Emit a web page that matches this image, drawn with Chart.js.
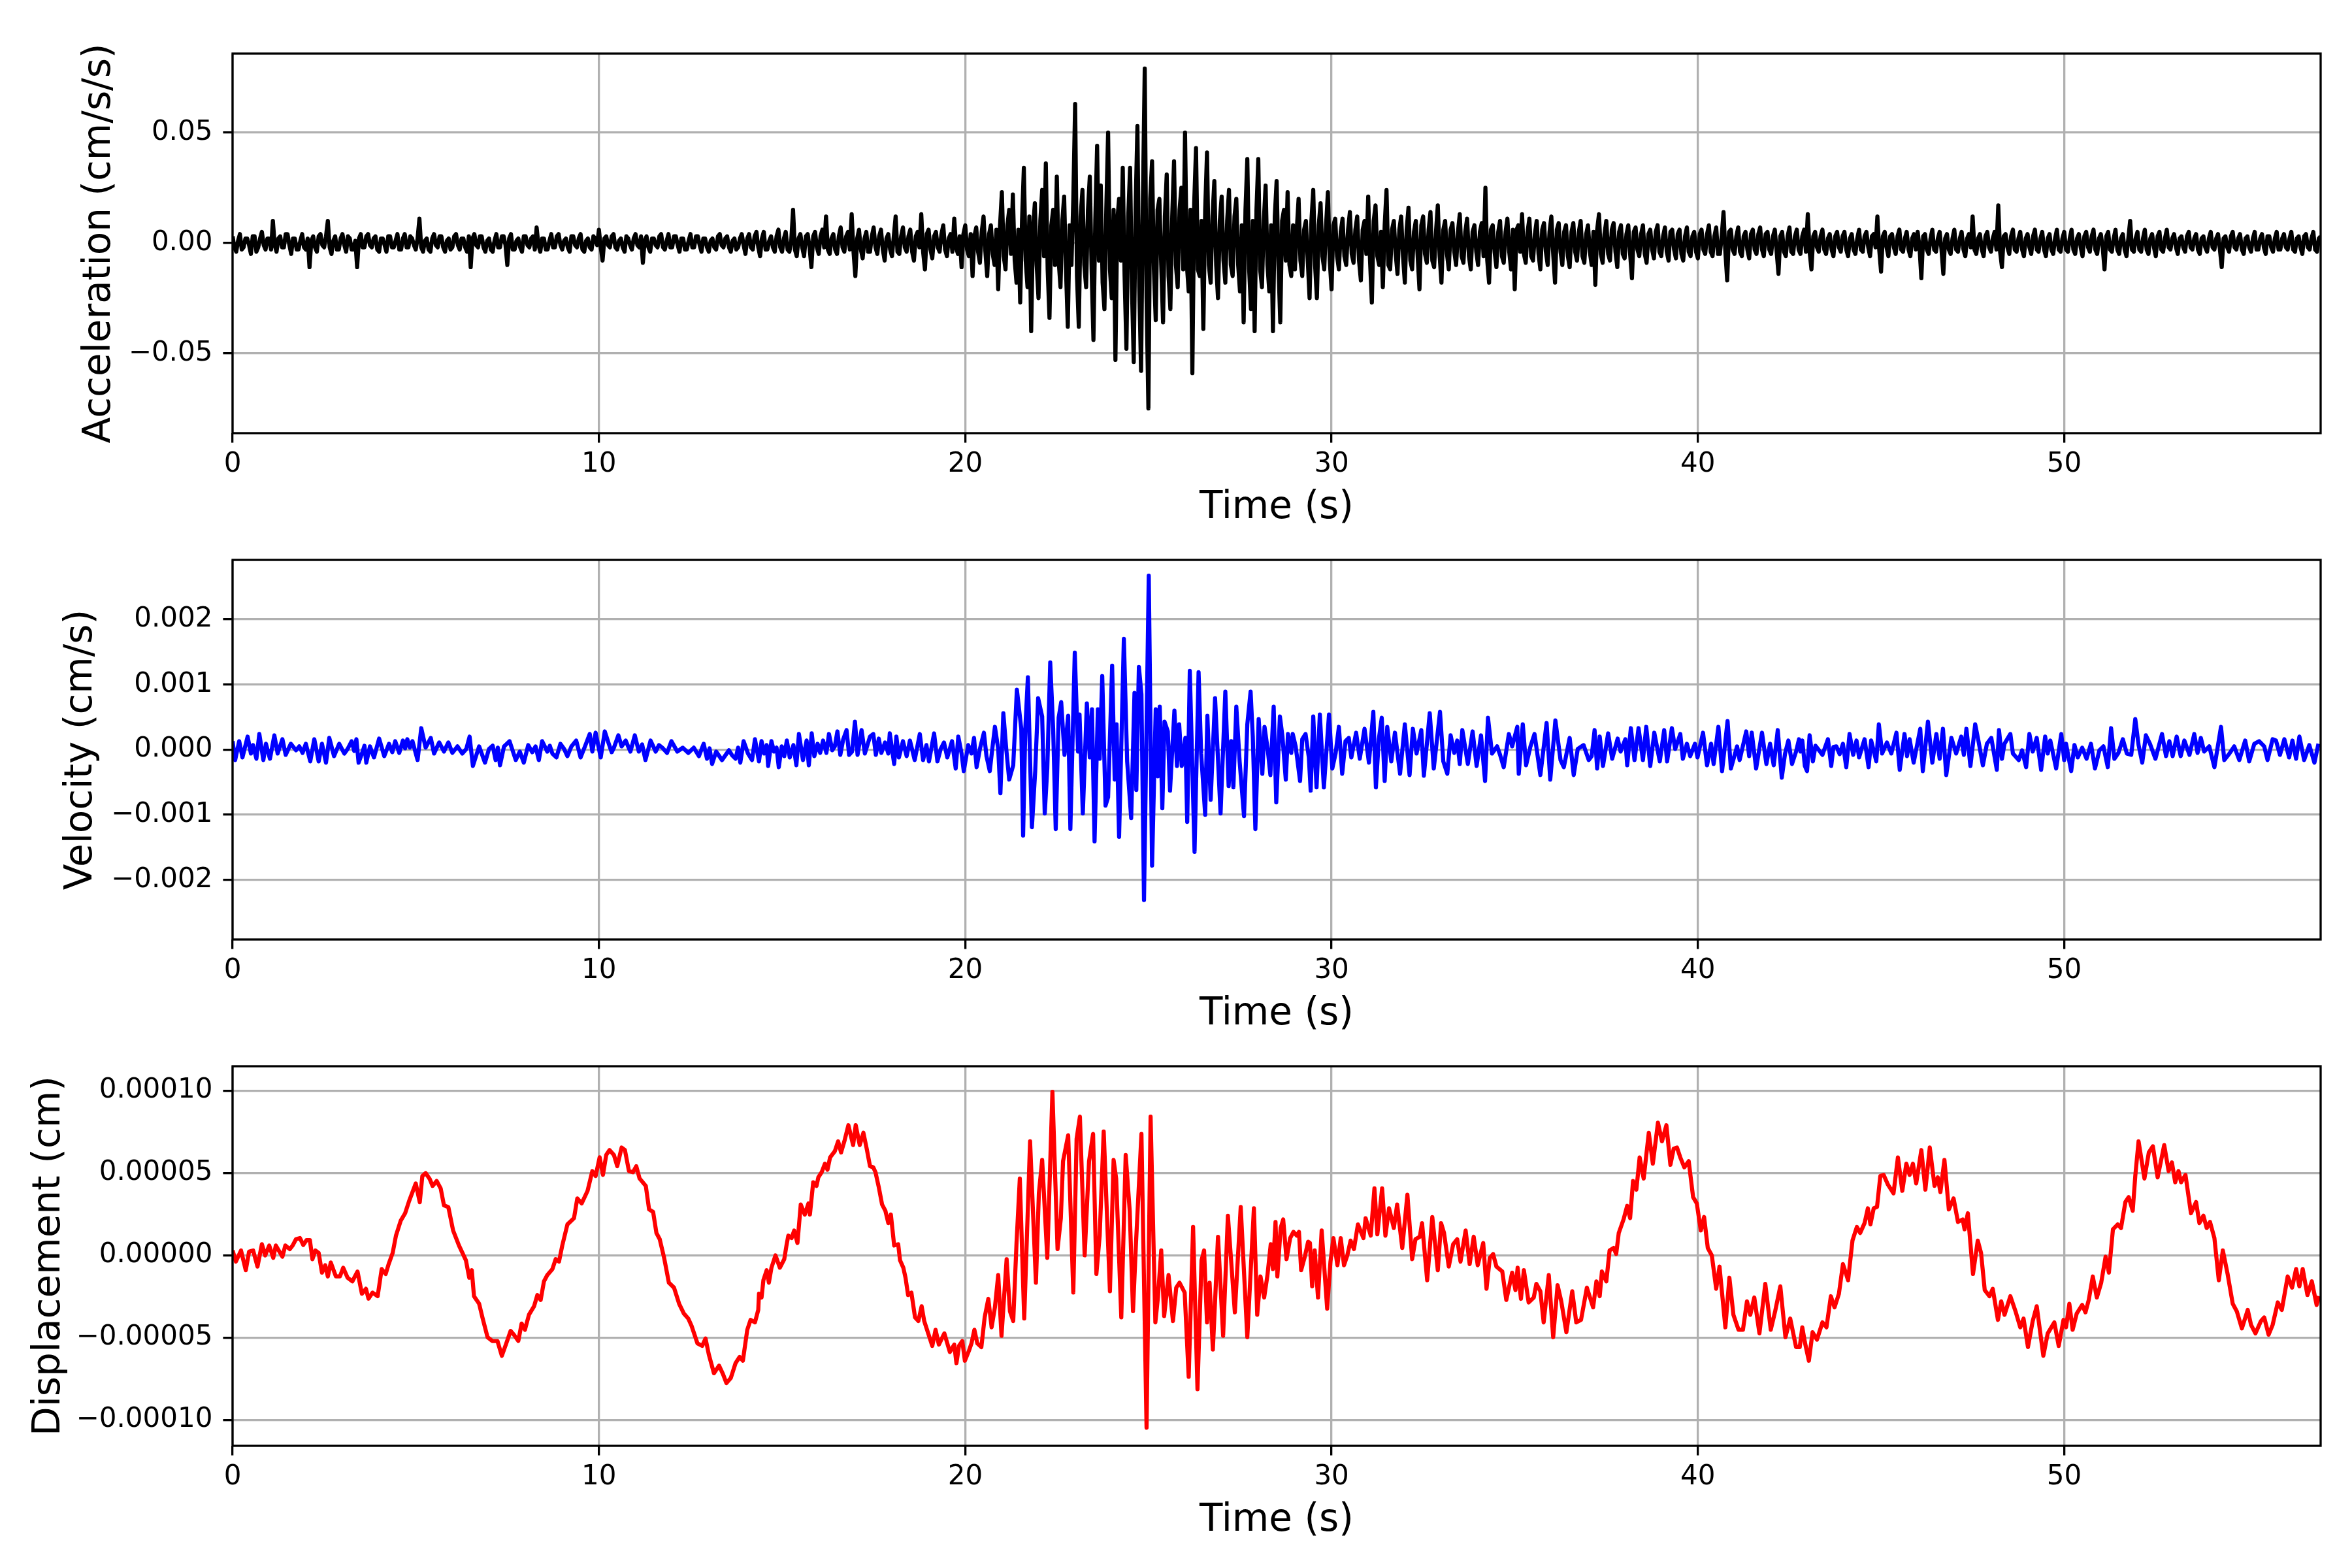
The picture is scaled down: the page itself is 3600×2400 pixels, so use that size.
<!DOCTYPE html>
<html><head><meta charset="utf-8">
<script src="https://cdn.jsdelivr.net/npm/chart.js@4.4.0/dist/chart.umd.min.js"></script>
<style>
html,body{margin:0;padding:0;background:#fff;width:3600px;height:2400px;overflow:hidden}
canvas{position:absolute;left:0;width:3600px;height:771px}
</style></head><body>
<canvas id="cAcc" width="3600" height="771" style="top:62px"></canvas>
<canvas id="cVel" width="3600" height="771" style="top:837px"></canvas>
<canvas id="cDis" width="3600" height="771" style="top:1612px"></canvas>
<script>
// ---------- DATA ----------
// Acceleration, sampled every 0.05 s, values in units of 1e-3 cm/s/s (one row = 1 s)
const accelStep = 0.05;
const accelMilli = [
 3,-2,-4,1,4,-3,-2,2,2,-1,-5,3,3,-4,-2,2,5,-1,-3,2,
 2,-3,10,-1,-4,2,3,-2,-2,4,4,-1,-5,2,2,-3,-3,1,4,-2,
 -3,2,-11,1,3,-2,-4,3,4,-1,-2,3,10,-2,-5,1,3,-3,-3,2,
 4,-1,-4,3,2,-3,-3,1,-11,2,4,-2,-2,3,4,-1,-2,2,3,-3,
 -4,2,2,-1,-4,3,3,-2,-2,1,4,-3,-3,2,4,-2,-2,3,2,-1,
 -3,2,11,-2,-4,1,2,-3,-4,2,4,-1,-2,3,3,-2,-4,1,2,-3,
 -2,3,4,-1,-3,2,2,-2,-4,3,-11,2,4,-1,-2,3,3,-2,-4,1,
 2,-3,-4,1,4,-2,-2,3,3,-1,-10,2,4,-3,-3,1,2,-2,-4,3,
 3,-1,-2,2,3,-3,7,-1,-4,2,2,-3,-3,1,4,-2,-2,3,4,-1,
 -3,1,2,-2,-4,3,3,-1,-2,2,4,-3,-4,1,2,-2,-3,3,2,-1,
 6,-2,-8,2,3,-1,-2,3,4,-2,-3,1,2,-2,-4,3,2,-1,-3,2,
 4,-1,-2,3,-9,1,3,-2,-4,2,2,-1,-2,3,4,-2,-3,1,4,-2,
 -2,3,3,-1,-4,2,2,-3,-3,1,4,-2,-2,3,3,-1,-4,2,2,-2,
 -4,1,2,-2,-3,3,4,-1,-2,2,3,-2,-4,1,2,-3,-2,2,4,-1,
 -5,2,4,-2,-3,3,5,-2,-6,2,5,-3,-3,1,3,-2,-4,3,6,-2,
 -4,2,5,-3,-4,1,15,-3,-6,2,4,-2,-6,3,4,-2,-11,3,5,-2,
 -5,3,6,-2,12,-3,-5,2,4,-3,-5,3,7,-2,-4,3,5,-3,13,-4,
 -15,2,6,-3,-7,2,5,-4,-4,3,7,-2,-5,3,6,-3,-8,2,4,-3,
 -6,3,12,-4,-5,3,7,-2,-4,3,6,-4,-8,3,5,-2,13,-4,-12,4,
 6,-3,-7,3,5,-2,-4,4,8,-3,-6,2,4,-4,11,-2,-5,3,-11,4,
 8,-3,-6,4,-15,3,7,-4,-9,5,12,-4,-15,4,8,-5,-10,6,-21,8,
 23,-6,-12,8,15,-5,22,-8,-18,6,-27,10,34,-8,-20,12,-40,6,18,-10,
 -25,10,24,-6,36,-12,-34,8,15,-10,30,-8,-20,10,21,-12,-38,8,-10,20,
 63,-15,-38,12,24,-10,-20,15,30,-12,-44,10,44,-8,26,-18,-30,15,50,-12,
 -25,15,-53,10,20,-8,34,-15,-48,12,34,-20,-54,15,53,-20,-58,20,79,-25,
 -75,20,37,-12,-35,15,20,-10,-36,12,31,-15,-30,12,37,-10,-20,15,25,-12,
 50,-10,-22,15,-59,18,43,-12,-15,10,-39,15,41,-10,-18,12,28,-10,-25,10,
 21,-8,-18,10,24,-10,-15,12,20,-10,-22,8,-36,15,38,-12,-30,10,-40,15,
 38,-12,-20,10,26,-10,-22,8,-40,12,28,-10,-36,10,15,-8,23,-10,-15,8,
 -12,6,20,-8,-15,6,10,-8,-25,10,24,-10,-25,8,18,-6,-12,8,23,-8,
 -21,8,11,-6,-12,5,11,-6,-10,6,14,-5,-9,6,12,-8,-17,6,10,-5,
 21,-8,-27,10,17,-6,-10,5,-20,8,24,-10,-12,6,10,-5,-14,6,12,-6,
 -18,6,16,-8,-12,5,10,-6,-21,8,12,-5,-9,6,14,-8,-11,5,17,-6,
 -18,6,10,-5,-12,6,9,-4,-10,5,13,-6,-9,5,11,-6,-12,5,8,-4,
 -10,5,9,-6,25,-8,-18,6,8,-4,-11,5,10,-6,-9,5,11,-4,-12,6,
 -21,6,8,-4,13,-5,-9,5,11,-6,-8,4,10,-5,-12,6,9,-4,-10,5,
 12,-5,-18,6,9,-4,-10,5,8,-6,-11,5,9,-4,-8,5,10,-6,-9,4,
 8,-4,-10,5,-19,6,13,-5,-9,4,10,-5,-8,6,9,-4,-11,5,8,-5,
 -7,4,8,-5,-16,5,7,-3,-6,4,8,-5,-9,4,6,-3,-7,5,8,-4,
 -6,3,7,-4,-8,5,6,-3,-7,4,6,-5,-8,3,7,-4,-6,3,5,-4,
 -7,4,6,-3,-5,4,8,-4,-6,3,7,-5,-5,3,14,-4,-17,5,6,-3,
 -5,3,7,-4,-6,3,5,-3,-7,4,6,-3,-5,4,7,-3,-6,4,5,-3,
 -5,3,6,-4,-14,3,5,-4,-6,3,7,-4,-5,3,6,-3,-5,3,6,-4,
 13,-4,-12,3,5,-2,-4,3,6,-3,-5,2,4,-3,-6,3,5,-2,-4,3,
 5,-3,-6,2,4,-3,-5,2,6,-3,-4,3,5,-2,-6,3,4,-2,12,-3,
 -13,3,5,-2,-6,3,4,-2,-5,3,6,-3,-4,2,5,-3,-6,2,4,-3,
 5,-2,-16,3,4,-3,-5,2,6,-3,-4,2,5,-3,-14,2,4,-3,-5,2,
 6,-3,-4,2,5,-3,-6,2,4,-2,12,-3,-5,2,4,-3,-6,3,5,-2,
 -4,2,5,-3,17,-4,-11,3,4,-2,-5,3,6,-3,-4,2,5,-3,-6,2,
 4,-2,-5,3,6,-3,-4,2,5,-3,-6,2,4,-3,-5,2,6,-3,-4,2,
 5,-3,-4,2,6,-3,-5,2,4,-2,-6,3,5,-2,-4,3,6,-3,-5,2,
 4,-2,-12,3,5,-3,-4,2,6,-3,-5,2,4,-3,-6,2,10,-3,-4,2,
 5,-3,-4,2,6,-3,-5,2,4,-2,-6,3,5,-3,-4,2,6,-2,-3,2,
 4,-2,-5,2,3,-2,-4,3,5,-2,-3,2,4,-3,-5,2,3,-2,-4,2,
 5,-2,-3,2,4,-3,-11,2,3,-2,-4,3,5,-2,-3,2,4,-3,-5,2,
 3,-2,-4,2,5,-3,-3,2,4,-2,-5,3,3,-2,-4,2,5,-3,-3,2,
 4,-2,-3,2,5,-3,-4,2,3,-2,-5,3,4,-2,-3,2,5,-3,-4,2,
 3
];

// Velocity, times in s, values in units of 1e-4 cm/s
const velTime = [
 0.00,0.07,0.18,0.27,0.41,0.50,0.56,0.65,0.73,0.84,
 0.91,1.02,1.14,1.23,1.36,1.45,1.59,1.73,1.82,1.91,
 2.00,2.12,2.23,2.35,2.44,2.55,2.64,2.77,2.91,3.05,
 3.14,3.25,3.32,3.38,3.44,3.55,3.60,3.65,3.75,3.86,
 4.00,4.14,4.27,4.36,4.44,4.55,4.65,4.71,4.77,4.84,
 4.91,5.05,5.15,5.27,5.41,5.50,5.64,5.77,5.89,6.00,
 6.14,6.27,6.38,6.47,6.56,6.73,6.89,7.00,7.10,7.18,
 7.24,7.30,7.41,7.56,7.73,7.84,7.95,8.07,8.18,8.27,
 8.36,8.45,8.59,8.66,8.73,8.84,8.95,9.05,9.14,9.25,
 9.38,9.50,9.62,9.75,9.82,9.91,10.05,10.16,10.27,10.35,
 10.41,10.53,10.62,10.73,10.86,10.98,11.09,11.18,11.27,11.41,
 11.55,11.64,11.73,11.86,11.98,12.14,12.29,12.44,12.59,12.73,
 12.86,12.95,13.02,13.09,13.20,13.36,13.55,13.64,13.73,13.80,
 13.86,13.95,14.07,14.18,
 14.26,14.37,14.44,14.51,14.58,14.62,14.71,14.78,14.85,14.91,
 14.99,15.06,15.13,15.21,15.31,15.39,15.46,15.57,15.67,15.73,
 15.81,15.88,15.97,16.04,16.12,16.21,16.28,16.37,16.44,16.51,
 16.59,16.67,16.76,16.83,16.91,16.99,17.06,17.17,17.26,17.40,
 17.49,17.56,17.64,17.71,17.81,17.90,17.94,18.06,18.12,18.19,
 18.30,18.40,18.49,18.62,18.76,18.85,18.94,19.01,19.15,19.24,
 19.33,19.42,19.51,19.64,19.74,19.81,19.90,19.96,20.08,20.17,
 20.24,20.31,20.40,20.51,20.58,20.67,20.73,20.81,20.90,20.96,
 21.04,21.12,21.20,21.31,21.41,21.53,21.58,21.64,21.71,21.82,
 21.91,21.99,22.10,22.17,22.24,22.32,22.40,22.47,22.55,22.62,
 22.71,22.81,22.87,22.99,23.08,23.12,23.21,23.32,23.40,23.46,
 23.53,23.62,23.67,23.74,23.83,23.90,24.01,24.08,24.13,24.20,
 24.33,24.42,24.53,24.62,24.67,24.74,24.81,24.88,25.01,25.10,
 25.20,25.26,25.31,25.38,25.44,25.53,25.59,25.71,25.78,25.84,
 25.91,26.01,26.06,26.13,26.26,26.37,26.44,26.55,26.61,26.70,
 26.82,26.97,27.10,27.19,27.26,27.32,27.40,27.49,27.61,27.70,
 27.79,27.85,27.92,28.01,28.11,28.17,28.26,28.33,28.42,28.49,
 28.59,28.66,28.75,28.81,28.90,28.94,29.02,29.14,29.20,29.29,
 29.38,29.43,29.50,29.59,29.68,29.79,29.93,30.02,30.11,30.20,
 30.29,30.38,30.47,30.54,30.67,30.77,30.90,31.02,31.14,31.21,
 31.29,31.37,31.45,31.52,31.63,31.73,31.87,32.00,32.13,32.22,
 32.32,32.45,32.52,32.68,32.79,32.96,33.05,33.16,33.25,33.35,
 33.43,33.50,33.57,33.72,33.85,33.96,34.08,34.19,34.27,34.38,
 34.52,34.60,34.70,34.84,34.93,35.07,35.11,35.22,35.31,35.43,
 35.54,35.70,35.87,35.97,36.11,36.25,36.34,36.50,36.61,36.72,
 36.88,37.02,37.10,37.18,37.25,37.32,37.41,37.55,37.66,37.81,
 37.89,38.02,38.07,38.17,38.27,38.38,38.50,38.59,38.70,38.81,
 38.96,39.08,39.16,39.29,39.38,39.52,39.59,39.70,39.79,39.92,
 39.99,40.14,40.25,40.36,40.43,40.56,40.66,40.81,40.90,41.07,
 41.14,41.32,41.40,41.47,41.59,41.75,41.87,41.97,42.07,42.18,
 42.29,42.38,42.47,42.57,42.68,42.76,
 42.80,42.85,42.92,42.98,43.05,43.14,43.21,43.28,43.40,43.55,
 43.64,43.70,43.78,43.87,43.96,44.05,44.14,44.24,44.33,44.40,
 44.55,44.66,44.73,44.87,44.94,45.03,45.16,45.28,45.42,45.51,
 45.64,45.71,45.78,45.89,46.07,46.14,46.28,46.40,46.51,46.60,
 46.69,46.78,46.92,47.05,47.19,47.26,47.33,47.44,47.57,47.66,
 47.78,47.89,48.01,48.16,48.22,48.30,48.37,48.53,48.60,48.76,
 48.85,48.96,49.05,49.14,49.25,49.37,49.48,49.55,49.62,49.78,
 49.92,50.00,50.05,50.19,50.28,50.37,50.49,50.61,50.73,50.84,
 50.96,51.07,51.19,51.28,51.37,51.48,51.60,51.71,51.83,51.94,
 52.03,52.13,52.23,52.34,52.49,52.67,52.78,52.87,52.96,53.07,
 53.18,53.28,53.42,53.55,53.64,53.73,53.82,53.96,54.10,54.28,
 54.37,54.51,54.64,54.78,54.94,55.05,55.19,55.32,55.46,55.55,
 55.69,55.78,55.89,56.01,56.14,56.23,56.33,56.42,56.55,56.69,
 56.83,56.94
];
const velTenThousandths = [
 1.3,-1.6,1.3,-1.2,2.0,-0.6,0.7,-1.4,2.4,-1.6,
 0.9,-1.4,2.2,-0.6,1.6,-0.8,0.9,-0.1,0.5,-0.5,
 0.9,-1.8,1.6,-1.8,0.9,-2.0,1.8,-1.0,0.9,-0.6,
 0.1,1.3,-0.2,1.6,-2.0,-0.3,0.6,-2.0,0.5,-1.2,
 1.7,-1.0,0.9,-0.4,1.3,-0.5,1.4,0.2,1.6,0.3,
 1.3,-1.6,3.3,0.3,1.8,-0.6,1.1,-0.3,1.1,-0.5,
 0.5,-0.6,0.1,2.0,-2.5,0.5,-2.0,0.1,0.6,-1.6,
 0.3,-2.4,0.5,1.3,-1.6,-0.3,-2.0,0.7,-0.4,0.5,
 -1.6,1.3,-0.3,0.6,-0.6,-1.2,0.9,0.1,-1.0,0.5,
 1.4,-1.2,0.5,2.4,-0.3,2.6,-1.2,2.8,0.9,-0.4,
 0.3,2.2,0.5,1.4,-0.3,2.2,-0.3,0.8,-1.6,1.4,
 -0.3,0.7,0.3,-0.5,1.3,-0.3,0.3,-0.5,0.3,-1.0,
 0.9,-1.4,0.2,-2.2,-0.3,-1.6,-0.1,-0.9,-1.4,0.3,
 -2.0,1.3,-0.6,-1.6,
 1.6,-1.8,1.3,-0.6,0.7,-2.5,1.3,-0.3,0.3,-2.7,
 0.5,-1.0,1.4,-1.2,0.7,-2.4,2.4,-1.6,1.4,-2.4,
 2.5,-1.0,0.9,-0.5,1.4,-0.5,2.4,-0.1,0.5,2.8,
 -0.8,1.6,3.0,-0.8,-0.3,4.3,-0.8,3.0,-0.6,2.0,
 2.4,-0.8,1.7,-0.5,1.1,-0.6,2.5,-2.2,2.0,-1.2,
 1.3,-1.0,1.4,-1.6,2.4,-1.6,0.7,-1.8,2.5,-1.8,
 0.1,1.1,-1.2,1.3,-2.9,2.0,-0.6,-3.3,0.7,-0.6,
 1.8,-2.7,0.1,2.6,-1.0,-3.3,-0.3,3.5,0.1,-6.7,
 5.6,0.1,-4.6,-2.4,9.2,3.2,-13.2,3.2,11.1,-11.9,
 -3.3,7.9,5.1,-9.8,-2.9,13.4,3.2,-12.2,4.9,7.3,
 -0.8,5.2,-12.2,14.9,-0.3,5.4,-9.8,7.1,-1.2,6.2,
 -14.1,6.2,-1.4,11.3,-8.6,-7.3,12.9,-4.6,3.9,-13.4,
 17.0,-1.8,-10.5,8.7,-6.2,12.7,8.5,-23.1,26.7,-17.8,
 6.2,-4.1,6.6,-9.0,4.3,2.8,-6.3,6.0,-2.5,3.9,
 -2.5,1.8,-11.1,12.1,-15.7,11.9,-0.6,-10.0,5.2,-7.7,
 7.9,-9.8,8.9,-5.6,1.3,-5.8,6.6,-1.8,-10.2,3.9,
 8.9,2.0,-12.2,4.7,-3.7,3.5,-0.1,-3.9,6.6,-8.1,
 5.1,2.0,-4.6,2.4,-0.5,2.4,0.5,-4.8,1.6,2.4,
 -1.2,-6.3,5.1,-5.8,5.4,-5.8,5.4,-2.9,-0.6,3.5,
 -3.7,1.3,1.8,-1.2,2.6,-1.4,3.2,-2.0,5.8,-5.8,
 1.6,4.9,-4.8,3.5,-1.8,2.6,-3.7,3.9,-3.9,3.2,
 -0.6,3.0,-4.0,5.6,-2.9,5.8,-1.8,-3.7,2.2,-0.5,
 1.4,-2.2,3.0,-2.2,2.8,-2.5,2.2,-4.8,4.9,-0.6,
 0.5,-0.8,-2.7,2.4,0.5,3.5,-3.7,3.9,-2.4,0.5,
 2.4,-3.9,4.1,-4.6,4.5,-1.6,-2.7,1.8,-3.9,0.1,
 0.7,-1.6,-1.0,3.0,-2.9,2.0,-2.5,2.5,-1.4,1.7,
 -0.3,1.6,-2.4,3.3,-1.6,3.3,-1.6,3.5,-2.5,2.6,
 -1.8,3.0,-1.8,3.3,0.1,2.4,-1.4,0.9,-1.0,0.9,
 -1.2,2.6,-2.4,0.9,-2.2,3.5,-3.3,4.4,-2.9,0.5,
 -1.6,2.8,-1.0,2.6,-2.9,2.6,-2.2,0.9,-2.4,3.0,
 -4.3,-0.6,1.4,-2.2,-0.3,1.6,
 -0.3,1.4,-2.5,-3.3,2.2,-1.8,0.6,0.1,-0.8,1.6,
 -2.5,0.4,0.5,-0.7,0.9,-2.7,2.4,-0.8,1.4,-1.2,
 1.6,-2.7,1.4,-1.8,3.9,-0.6,1.1,-0.6,2.6,-3.1,
 2.4,-1.0,1.6,-2.0,3.2,-3.3,4.3,-2.0,2.4,-1.4,
 3.2,-3.9,1.8,-0.6,2.0,-0.8,3.2,-2.5,3.9,1.3,
 -2.4,0.9,1.8,-3.1,3.0,-1.4,0.9,2.4,-0.6,-1.6,
 -0.1,-2.7,2.4,-0.3,1.8,-3.1,2.0,-0.6,1.4,-2.9,
 2.4,-1.6,0.9,-3.3,0.7,-1.2,0.3,-1.4,0.9,-2.9,
 -0.1,0.5,-2.7,3.3,-1.4,-0.5,1.6,-0.6,-0.8,4.7,
 0.7,-2.0,2.2,0.9,-1.4,2.4,-1.0,1.3,-1.0,2.0,
 -1.0,1.4,-0.8,2.4,-0.5,1.8,-0.3,0.5,-2.7,3.5,
 -1.6,-0.6,0.5,-1.6,1.4,-1.8,0.9,1.3,0.5,-1.6,
 1.6,1.4,-0.8,1.6,-1.2,1.4,-1.4,2.0,-1.6,0.7,
 -2.0,0.9
];

// Displacement, times in s, values in units of 1e-5 cm
const dispTime = [
 0.00,0.09,0.23,0.36,0.45,0.56,0.68,0.80,0.89,1.00,
 1.11,1.18,1.36,1.44,1.56,1.64,1.73,1.84,1.93,2.02,
 2.11,2.18,2.26,2.35,2.44,2.53,2.60,2.68,2.82,2.93,
 3.02,3.14,3.27,3.41,3.53,3.64,3.71,3.82,3.96,4.07,
 4.18,4.26,4.37,4.46,4.59,4.71,4.82,5.00,5.11,5.18,
 5.27,5.38,5.46,5.57,5.68,5.77,5.89,6.02,6.18,6.37,
 6.46,6.53,6.59,6.73,6.82,6.96,7.09,7.23,7.35,7.46,
 7.59,7.68,7.80,7.89,7.98,8.09,8.23,8.32,8.41,8.50,
 8.59,8.73,8.82,8.91,9.00,9.14,9.32,9.41,9.53,9.69,
 9.82,9.91,10.02,10.11,10.20,10.29,10.41,10.50,10.62,10.71,
 10.82,10.93,11.02,11.11,11.28,11.37,11.48,11.57,11.66,11.78,
 11.91,12.05,12.19,12.32,12.44,12.53,12.69,12.82,12.91,13.00,
 13.14,13.28,13.39,13.48,13.60,13.73,13.84,13.93,14.05,14.14,
 14.26,14.35,14.37,14.44,14.49,14.58,14.64,14.71,14.82,14.94,
 15.06,15.12,15.17,15.26,15.33,15.42,15.51,15.62,15.72,15.76,
 15.85,15.94,15.99,16.08,16.17,16.24,16.31,16.44,16.53,16.61,
 16.70,16.81,16.94,17.01,17.12,17.22,17.31,17.40,17.49,17.55,
 17.64,17.73,17.82,17.90,17.97,18.06,18.17,18.22,18.31,18.37,
 18.44,18.53,18.63,18.72,18.81,18.88,18.99,19.10,19.19,19.28,
 19.43,19.58,19.70,19.76,19.83,19.92,19.99,20.10,20.17,20.25,
 20.33,20.44,20.53,20.63,20.72,20.81,20.90,20.99,21.13,21.22,
 21.31,21.40,21.49,21.61,21.77,21.93,22.01,22.10,22.24,22.38,
 22.52,22.61,22.67,22.81,22.95,23.04,23.13,23.26,23.38,23.49,
 23.58,23.67,23.78,23.95,24.05,24.12,24.26,24.38,24.49,24.58,
 24.66,24.81,24.95,25.06,25.19,25.26,25.35,25.43,25.55,25.67,
 25.76,25.85,25.99,26.10,26.22,26.34,26.45,26.52,26.60,26.67,
 26.76,26.90,27.04,27.17,27.36,27.52,27.70,27.88,27.97,28.06,
 28.16,28.25,28.34,28.40,28.47,
 28.52,28.61,28.68,28.77,28.87,28.96,29.05,29.11,29.17,29.27,
 29.36,29.41,29.47,29.54,29.63,29.73,29.88,29.97,30.05,30.16,
 30.25,30.34,30.43,30.52,30.61,30.72,30.87,30.93,31.07,31.17,
 31.25,31.38,31.47,31.57,31.70,31.79,31.93,32.07,32.20,32.29,
 32.41,32.47,32.61,32.75,32.90,32.99,33.07,33.20,33.32,33.43,
 33.52,33.66,33.77,33.88,33.99,34.14,34.23,34.32,34.41,34.50,
 34.66,34.77,34.93,35.02,35.08,35.17,35.25,35.38,35.52,35.59,
 35.70,35.79,35.93,36.05,36.17,36.27,36.41,36.57,36.68,36.81,
 36.97,37.14,37.23,37.32,37.38,37.50,37.59,37.70,37.77,37.84,
 37.97,38.07,38.15,38.23,38.32,38.41,38.52,38.66,38.77,38.91,
 39.02,39.14,39.25,39.34,39.43,39.52,39.63,39.75,39.87,39.97,
 40.08,40.17,40.27,40.38,40.50,40.59,40.75,40.86,40.97,41.11,
 41.23,41.34,41.43,41.54,41.68,41.84,41.99,42.11,42.25,42.39,
 42.52,42.68,
 42.78,42.85,42.92,43.03,43.13,43.25,43.40,43.51,43.63,43.73,
 43.85,43.96,44.10,44.22,44.34,44.43,44.55,44.64,44.71,44.80,
 44.89,44.98,45.07,45.19,45.34,45.46,45.58,45.69,45.78,45.87,
 45.96,46.10,46.21,46.33,46.46,46.55,46.62,46.73,46.85,46.98,
 47.10,47.23,47.28,47.37,47.51,47.64,47.73,47.83,47.96,48.05,
 48.19,48.28,48.37,48.53,48.67,48.80,48.89,49.01,49.14,49.25,
 49.43,49.55,49.73,49.85,49.98,50.05,50.14,50.23,50.34,50.49,
 50.58,50.67,50.78,50.89,51.01,51.13,51.22,51.33,51.46,51.55,
 51.67,51.76,51.87,51.94,52.03,52.19,52.31,52.42,52.55,52.73,
 52.85,52.94,53.03,53.12,53.19,53.31,53.46,53.60,53.69,53.80,
 53.89,53.98,54.10,54.22,54.33,54.46,54.60,54.71,54.85,55.01,
 55.10,55.22,55.37,55.46,55.58,55.69,55.83,55.94,56.10,56.22,
 56.33,56.42,56.51,56.64,56.76,56.89,56.96
];
const dispHundredThousandths = [
 0.30,-0.38,0.30,-0.90,0.23,0.30,-0.68,0.68,0.00,0.60,
 -0.15,0.60,-0.08,0.60,0.38,0.60,0.98,1.05,0.63,0.93,
 0.93,-0.23,0.30,0.15,-1.05,-0.60,-1.28,-0.43,-1.28,-1.28,
 -0.75,-1.36,-1.58,-0.98,-2.33,-2.03,-2.63,-2.26,-2.48,-0.83,
 -1.13,-0.53,0.15,1.20,2.11,2.56,3.31,4.37,3.23,4.82,
 5.00,4.64,4.22,4.52,4.07,3.04,2.93,1.51,0.60,-0.30,
 -1.36,-0.90,-2.48,-2.94,-3.77,-4.97,-5.20,-5.20,-6.10,-5.42,
 -4.59,-4.82,-5.20,-4.14,-4.52,-3.61,-3.09,-2.41,-2.71,-1.58,
 -1.20,-0.83,-0.23,-0.38,0.60,1.88,2.26,3.46,3.16,3.92,
 5.12,4.82,5.96,4.89,6.10,6.40,6.10,5.42,6.55,6.40,
 5.12,5.05,5.42,4.67,4.22,2.79,2.64,1.36,0.98,-0.15,
 -1.66,-1.96,-2.94,-3.54,-3.84,-4.29,-5.35,-5.50,-5.05,-6.02,
 -7.16,-6.70,-7.23,-7.76,-7.45,-6.55,-6.17,-6.40,-4.52,-3.92,
 -4.07,-3.31,-2.33,-2.56,-1.51,-0.90,-1.66,-0.75,0.00,-0.75,
 -0.23,0.60,1.20,1.05,1.51,0.75,3.09,2.48,3.16,2.48,
 4.44,4.22,4.74,5.05,5.57,5.20,5.95,6.33,6.93,6.25,
 6.93,7.91,6.70,7.91,6.70,7.45,6.48,5.42,5.35,5.05,
 4.14,3.09,2.71,1.96,2.48,0.60,0.68,-0.30,-0.75,-1.36,
 -2.41,-2.26,-3.77,-3.99,-3.09,-3.99,-4.74,-5.50,-4.52,-5.42,
 -4.74,-5.87,-5.42,-6.55,-5.50,-5.20,-6.40,-5.80,-5.35,-4.52,
 -5.35,-5.57,-3.77,-2.64,-4.37,-3.16,-1.20,-4.89,-0.23,-3.39,
 -3.99,0.75,4.67,-3.84,6.93,-1.66,3.77,5.80,-0.15,9.94,
 0.38,2.26,5.72,7.30,-2.26,7.08,8.43,0.00,5.72,7.38,
 -1.13,1.20,7.53,-2.18,5.80,4.67,-3.77,6.10,2.71,-3.39,
 0.68,7.38,-10.47,8.43,-4.07,-2.56,0.30,-3.69,-1.20,-3.99,
 -1.96,-1.66,-2.26,-7.38,1.73,-8.13,-0.30,0.30,-4.07,-1.66,
 -5.72,1.13,-4.89,2.41,-3.46,2.94,-4.97,2.86,-3.61,-1.28,
 -2.56,-1.20,0.68,-0.83,2.03,
 -1.28,1.66,2.18,-0.23,1.05,1.43,1.20,1.43,-0.90,-0.08,
 0.83,0.75,-1.88,0.30,-2.56,1.51,-3.24,-0.38,1.05,-0.60,
 1.05,-0.60,0.00,0.90,0.38,1.88,1.05,2.26,1.20,4.07,
 1.28,4.07,1.20,2.86,1.66,3.09,0.45,3.69,-0.23,0.98,
 1.13,1.96,-1.51,2.33,-0.90,1.96,1.36,-0.68,0.68,0.98,
 -0.38,1.51,-0.53,1.13,-0.60,0.75,-2.03,-0.15,0.08,-0.68,
 -0.98,-2.71,-1.05,-2.11,-0.75,-2.64,-0.90,-2.86,-2.56,-1.73,
 -2.18,-4.07,-1.20,-4.97,-1.81,-2.79,-4.67,-2.18,-4.07,-3.92,
 -1.96,-3.16,-1.58,-2.48,-0.98,-1.58,0.30,0.45,0.08,1.36,
 2.18,3.01,2.26,4.52,3.99,5.95,4.67,7.45,5.57,8.06,
 6.93,7.91,5.50,6.48,6.55,5.95,5.35,5.72,3.54,3.16,
 1.51,2.33,0.45,0.00,-2.03,-0.68,-4.37,-1.36,-3.61,-4.52,
 -4.52,-2.79,-3.61,-2.56,-4.74,-1.73,-4.52,-3.39,-1.88,-4.97,
 -3.84,-5.57,
 -5.57,-4.37,-5.27,-6.40,-4.67,-5.12,-4.07,-4.37,-2.48,-3.16,
 -2.33,-0.53,-1.51,0.90,1.73,1.36,1.96,2.86,1.88,2.86,
 2.94,4.82,4.89,4.29,3.77,5.95,3.92,5.57,4.89,5.57,
 4.37,6.40,3.99,6.55,4.22,4.74,3.84,5.80,2.79,3.46,
 2.03,2.18,1.58,2.56,-1.13,0.90,0.15,-2.11,-2.48,-2.03,
 -3.92,-2.79,-3.61,-2.48,-3.39,-4.37,-3.84,-5.57,-3.99,-3.09,
 -6.10,-4.74,-4.07,-5.50,-3.92,-4.37,-2.94,-4.52,-3.54,-3.01,
 -3.46,-2.71,-1.28,-2.56,-1.66,-0.08,-1.05,1.58,1.88,1.66,
 3.24,3.54,2.71,4.82,6.93,4.67,6.25,6.63,4.74,6.70,
 5.12,5.65,4.44,5.12,4.44,4.89,2.56,3.24,1.96,2.41,
 1.66,2.03,1.05,-1.51,0.30,-1.13,-2.94,-3.39,-4.44,-3.31,
 -4.22,-4.74,-3.99,-3.77,-4.82,-4.22,-2.86,-3.31,-1.28,-1.96,
 -0.83,-1.88,-0.83,-2.41,-1.58,-3.01,-2.48
];

// Tick values
const timeTicks = [0, 10, 20, 30, 40, 50];
const accelTicks = [-0.05, 0.00, 0.05];
const velTicks = [-0.002, -0.001, 0.000, 0.001, 0.002];
const dispTicks = [-0.0001, -0.00005, 0.0, 0.00005, 0.0001];

// ---------- CHARTS ----------
const FONT = "'DejaVu Sans', sans-serif";
const boxPlugin = {
  id: 'box',
  afterDraw(chart) {
    const {ctx, chartArea: a} = chart;
    ctx.save();
    ctx.strokeStyle = '#000';
    ctx.lineWidth = 3.3;
    ctx.strokeRect(a.left, a.top, a.right - a.left, a.bottom - a.top);
    ctx.restore();
  }
};
function fmt(dec) {
  const zero = '0.' + '0'.repeat(dec);
  return v => { const s = Number(v).toFixed(dec); return s === '-' + zero ? zero : s.replace('-', '\u2212'); };
}
function makeChart(id, points, color, yMin, yMax, yTicks, dec, yTitle, yTitlePad) {
  const gridCfg = {color: '#b0b0b0', lineWidth: 3.3, drawTicks: true, tickColor: '#000', tickWidth: 3.3, tickLength: 14.6};
  return new Chart(document.getElementById(id), {
    type: 'line',
    data: {datasets: [{data: points, borderColor: color, borderWidth: 6.25, pointRadius: 0, tension: 0,
      borderJoinStyle: 'round', fill: false}]},
    options: {
      responsive: false, animation: false, devicePixelRatio: 1, parsing: false, normalized: true,
      layout: {padding: {top: 20, right: 48, left: 0, bottom: 0}},
      plugins: {legend: {display: false}, tooltip: {enabled: false}},
      scales: {
        x: {
          type: 'linear', min: 0, max: 57,
          afterBuildTicks: s => { s.ticks = timeTicks.map(v => ({value: v})); },
          afterFit: s => { s.height = 170; s.paddingLeft = 0; s.paddingRight = 0; },
          grid: gridCfg, border: {display: false},
          ticks: {color: '#000', font: {family: FONT, size: 42}, padding: 8, maxRotation: 0, autoSkip: false,
                  callback: v => String(v)},
          title: {display: true, text: 'Time (s)', color: '#000', font: {family: FONT, size: 58},
                  padding: {top: 0, bottom: 20}}
        },
        y: {
          type: 'linear', min: yMin, max: yMax,
          afterBuildTicks: s => { s.ticks = yTicks.map(v => ({value: v})); },
          afterFit: s => { s.width = 356; s.paddingTop = 0; s.paddingBottom = 0; },
          grid: gridCfg, border: {display: false},
          ticks: {color: '#000', font: {family: FONT, size: 42}, padding: 16, autoSkip: false, callback: fmt(dec)},
          title: {display: true, text: yTitle, color: '#000', font: {family: FONT, size: 58},
                  padding: {top: yTitlePad, bottom: 0}}
        }
      }
    },
    plugins: [boxPlugin]
  });
}

const accelPoints = accelMilli.map((v, i) => ({x: Math.round(i * accelStep * 100) / 100, y: v * 1e-3}));
const velPoints = velTime.map((t, i) => ({x: t, y: velTenThousandths[i] * 1e-4}));
const dispPoints = dispTime.map((t, i) => ({x: t, y: dispHundredThousandths[i] * 1e-5}));

makeChart('cAcc', accelPoints, '#000000', -0.0862, 0.0858, accelTicks, 2, 'Acceleration (cm/s/s)', 118);
makeChart('cVel', velPoints, '#0000ff', -0.002915, 0.002913, velTicks, 3, 'Velocity (cm/s)', 90);
makeChart('cDis', dispPoints, '#ff0000', -0.0001157, 0.0001149, dispTicks, 5, 'Displacement (cm)', 41);
</script>
</body></html>
